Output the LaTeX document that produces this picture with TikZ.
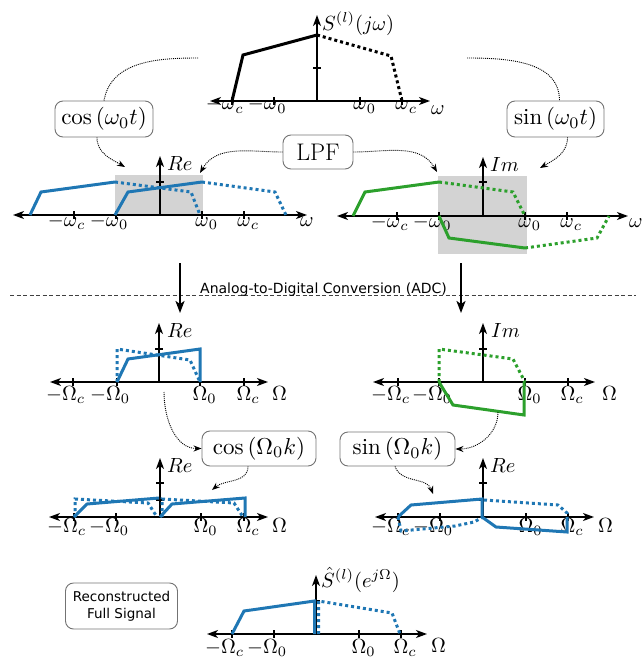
\documentclass[tikz,border=0pt]{standalone}
\usepackage{graphicx}
\usepackage{fontspec}
\newfontfamily\dejavu{DejaVu Sans}
\usetikzlibrary{arrows.meta}
\definecolor{cblue}{HTML}{1F77B4}
\definecolor{cgreen}{HTML}{2CA02C}
\definecolor{cshade}{HTML}{D3D3D3}
\newcommand\lb[1]{\scalebox{2.05}{$#1$}}
\newcommand\bxm[1]{\scalebox{2.3}{$#1$}}
\newcommand\mytx[2]{\draw[tk] (#1,#2-4) -- (#1,#2+4);}
\newcommand\myty[2]{\draw[tk] (#1-4,#2) -- (#1+4,#2);}
\newcommand\tlab[4]{\node[lab,anchor=base] (#1) at (#2,#3) {\lb{#4}};}
\newcommand\tlabn[4]{\node[lab,anchor=base] (#1) at (#2-3.5,#3) {\lb{\llap{$-$}#4}};}
\tikzset{
  ax/.style={line width=1.4pt,{Stealth[length=11pt,width=8pt,inset=3pt]}-{Stealth[length=11pt,width=8pt,inset=3pt]}},
  vax/.style={line width=1.4pt,-{Stealth[length=11pt,width=8pt,inset=3pt]}},
  tk/.style={line width=1.1pt},
  solc/.style={line width=3pt},
  dotc/.style={line width=3pt,dash pattern=on 3pt off 3pt},
  conn/.style={line width=0.9pt,dash pattern=on 1pt off 1pt,-{Stealth[length=8pt,width=6pt]}},
  plainc/.style={line width=0.9pt,dash pattern=on 1pt off 1pt},
  lab/.style={inner sep=0pt},
  bx/.style={draw=black!55,line width=0.9pt,rounded corners=8pt,inner sep=0pt},
  adcarrow/.style={line width=2pt,-{Stealth[length=12pt,width=9pt,inset=3pt]}},
}
\begin{document}
\begin{tikzpicture}[x=1pt,y=-1pt]
\useasboundingbox (0,0) rectangle (641,658);

% ---------- top plot ----------
\mytx{232}{101}\mytx{274}{101}\mytx{360}{101}\mytx{402}{101}
\myty{317}{68}
\draw[ax] (210,101) -- (430,101);
\draw[vax] (317,101) -- (317,15);
\tlabn{a1}{232}{110}{\omega\rlap{$_c$}}
\tlabn{a2}{274}{110}{\omega\rlap{$_0$}}
\tlab{a3}{360}{110}{\omega\rlap{$_0$}}
\tlab{a4}{402}{110}{\omega\rlap{$_c$}}
\node[lab,anchor=base west] (a5) at (431,115) {\lb{\omega}};
\node[lab,anchor=north west] (a6) at (322,12) {\lb{S^{(l)}(j\omega)}};
\draw[solc] (232,101) -- (243,55) -- (317,35);
\draw[dotc] (317,35) -- (391,56) -- (402,101);

% ---------- row 2 left (Re) ----------
\fill[cshade] (115,175) rectangle (203,215);
\mytx{74}{215}\mytx{116}{215}\mytx{202}{215}\mytx{244}{215}
\myty{160}{182}
\draw[ax] (13,215) -- (307,215);
\draw[vax] (160,215) -- (160,156);
\tlabn{b1}{74}{226.5}{\omega\rlap{$_c$}}
\tlabn{b2}{116}{226.5}{\omega\rlap{$_0$}}
\tlab{b3}{202}{226.5}{\omega\rlap{$_0$}}
\tlab{b4}{244}{226.5}{\omega\rlap{$_c$}}
\node[lab,anchor=base west] (b5) at (300,226.5) {\lb{\omega}};
\node[lab,anchor=north west] (b6) at (167,156) {\lb{Re}};
\draw[solc,cblue] (30,215) -- (41,192) -- (115,182);
\draw[dotc,cblue] (115,182) -- (191,192) -- (200,215);
\draw[solc,cblue] (115,215) -- (128,192) -- (202,182);
\draw[dotc,cblue] (202,182) -- (275,192) -- (286,215);

% ---------- row 2 right (Im) ----------
\fill[cshade] (438,176) rectangle (527,254);
\mytx{397}{216}\mytx{439}{216}\mytx{525}{216}\mytx{567}{216}
\myty{483}{182}
\draw[ax] (337,216) -- (628,216);
\draw[vax] (483,216) -- (483,157);
\tlabn{c1}{397}{227.5}{\omega\rlap{$_c$}}
\tlabn{c2}{439}{227.5}{\omega\rlap{$_0$}}
\tlab{c3}{525}{227.5}{\omega\rlap{$_0$}}
\tlab{c4}{567}{227.5}{\omega\rlap{$_c$}}
\node[lab,anchor=base west] (c5) at (629,227.5) {\lb{\omega}};
\node[lab,anchor=north west] (c6) at (490,157) {\lb{Im}};
\draw[solc,cgreen] (353,216) -- (365,192) -- (439,182);
\draw[dotc,cgreen] (439,182) -- (513,192) -- (525,216);
\draw[solc,cgreen] (439,216) -- (449,238) -- (525,248);
\draw[dotc,cgreen] (525,248) -- (597,238) -- (609,216);

% ---------- ADC ----------
\coordinate (dl) at (10,295);
\coordinate (dr) at (636,295);
\draw[line width=0.9pt,black!75,dash pattern=on 4pt off 2.5pt] (dl) -- (dr);
\node[font=\dejavu\fontsize{14}{16}\selectfont,anchor=base,inner sep=0pt] (adc) at (323.5,293) {Analog-to-Digital Conversion (ADC)};
\coordinate (ad1) at (180,263); \coordinate (ad2) at (180,313);
\coordinate (ad3) at (461,263); \coordinate (ad4) at (461,313);
\draw[adcarrow] (ad1) -- (ad2);
\draw[adcarrow] (ad3) -- (ad4);

% ---------- row 3 left (Re) ----------
\mytx{73}{382}\mytx{117}{382}\mytx{200}{382}\mytx{244}{382}
\myty{159}{349}
\draw[ax] (50,382) -- (268,382);
\draw[vax] (159,382) -- (159,323);
\tlabn{d1}{73}{400}{\Omega\rlap{$_c$}}
\tlabn{d2}{117}{400}{\Omega\rlap{$_0$}}
\tlab{d3}{200}{400}{\Omega\rlap{$_0$}}
\tlab{d4}{244}{400}{\Omega\rlap{$_c$}}
\node[lab,anchor=base west] (d5) at (272,400) {\lb{\Omega}};
\node[lab,anchor=north west] (d6) at (167,323) {\lb{Re}};
\draw[dotc,cblue] (117,382) -- (117,349) -- (190,360) -- (200,382);
\draw[solc,cblue] (117,382) -- (128,359) -- (200,349) -- (200,382);

% ---------- row 3 right (Im) ----------
\mytx{398}{382}\mytx{439}{382}\mytx{525}{382}\mytx{568}{382}
\myty{483}{349}
\draw[ax] (373,382) -- (595,382);
\draw[vax] (483,382) -- (483,323);
\tlabn{e1}{398}{400}{\Omega\rlap{$_c$}}
\tlabn{e2}{439}{400}{\Omega\rlap{$_0$}}
\tlab{e3}{525}{400}{\Omega\rlap{$_0$}}
\tlab{e4}{568}{400}{\Omega\rlap{$_c$}}
\node[lab,anchor=base west] (e5) at (602,400) {\lb{\Omega}};
\node[lab,anchor=north west] (e6) at (491,323) {\lb{Im}};
\draw[dotc,cgreen] (439,382) -- (439,349) -- (513,359) -- (525,382);
\draw[solc,cgreen] (439,382) -- (453,405) -- (524,415) -- (524,382);

% ---------- row 4 left (Re) ----------
\mytx{74}{517}\mytx{116}{517}\mytx{201}{517}\mytx{244}{517}
\myty{160}{483}\myty{160}{500}
\draw[ax] (49,517) -- (268,517);
\draw[vax] (160,517) -- (160,458);
\tlabn{f1}{74}{532}{\Omega\rlap{$_c$}}
\tlabn{f2}{116}{532}{\Omega\rlap{$_0$}}
\tlab{f3}{201}{532}{\Omega\rlap{$_0$}}
\tlab{f4}{244}{532}{\Omega\rlap{$_c$}}
\node[lab,anchor=base west] (f5) at (272,532) {\lb{\Omega}};
\node[lab,anchor=north west] (f6) at (167,458) {\lb{Re}};
\draw[dotc,cblue] (75,517) -- (75,499) -- (148,503) -- (157,517);
\draw[dotc,cblue] (162,517) -- (162,499) -- (234,503) -- (243,517);
\draw[solc,cblue] (74,517) -- (87,504) -- (159,498);
\draw[solc,cblue] (160,517) -- (172,504) -- (245,498) -- (245,517);

% ---------- row 4 right (Re) ----------
\mytx{398}{517}\mytx{440}{517}\mytx{526}{517}\mytx{568}{517}
\myty{483}{483}\myty{483}{500}
\draw[ax] (375,517) -- (594,517);
\draw[vax] (483,517) -- (483,458);
\tlabn{g1}{398}{532}{\Omega\rlap{$_c$}}
\tlabn{g2}{440}{532}{\Omega\rlap{$_0$}}
\tlab{g3}{526}{532}{\Omega\rlap{$_0$}}
\tlab{g4}{568}{532}{\Omega\rlap{$_c$}}
\node[lab,anchor=base west] (g5) at (598,532) {\lb{\Omega}};
\node[lab,anchor=north west] (g6) at (490,458) {\lb{Re}};
\draw[dotc,cblue] (484,500) -- (558,505) -- (567,513) -- (567,517);
\draw[dotc,cblue] (398,517) -- (401,531) -- (455,526) -- (474,522) -- (483,517);
\draw[solc,cblue] (398,517) -- (411,505) -- (482,499) -- (482,517) -- (496,527) -- (567,532) -- (567,517);

% ---------- row 5 ----------
\mytx{232}{634}\mytx{274}{634}\mytx{359}{634}\mytx{401}{634}
\myty{316}{601}
\draw[ax] (207,634) -- (427,634);
\draw[vax] (316,634) -- (316,575);
\tlabn{h1}{232}{653}{\Omega\rlap{$_c$}}
\tlabn{h2}{274}{653}{\Omega\rlap{$_0$}}
\tlab{h3}{359}{653}{\Omega\rlap{$_0$}}
\tlab{h4}{401}{653}{\Omega\rlap{$_c$}}
\node[lab,anchor=base west] (h5) at (431,652) {\lb{\Omega}};
\node[lab,anchor=west] (h6) at (321,580) {\lb{\hat S^{(l)}(e^{j\Omega})}};
\draw[solc,cblue] (232,634) -- (244,611) -- (314.5,601) -- (314.5,634);
\draw[dotc,cblue] (318.5,634) -- (318.5,601) -- (392,613) -- (400,634);

% ---------- boxes ----------
\node[bx,minimum width=98pt,minimum height=36pt] (cosw) at (104,119) {\bxm{\cos\left(\omega_0 t\right)}};
\node[bx,minimum width=97pt,minimum height=36pt] (sinw) at (555.5,119) {\bxm{\sin\left(\omega_0 t\right)}};
\node[bx,minimum width=70pt,minimum height=34pt,font=\fontsize{24}{28}\selectfont] (lpf) at (318,152) {LPF};
\node[bx,minimum width=114pt,minimum height=35pt] (cosk) at (259,448.5) {\bxm{\cos\left(\Omega_0 k\right)}};
\node[bx,minimum width=115pt,minimum height=34pt] (sink) at (397.5,449) {\bxm{\sin\left(\Omega_0 k\right)}};
\node[bx,minimum width=112pt,minimum height=46pt,font=\dejavu\fontsize{13.5}{17}\selectfont,align=center] (rec) at (121.5,606) {Reconstructed\\Full Signal};

% ---------- connectors ----------
\coordinate (cA) at (198,58);
\coordinate (sA) at (467,58);
\coordinate (cB) at (125,167);
\coordinate (lA) at (200,173);
\coordinate (lB) at (437,172);
\coordinate (sB) at (540,168);
\coordinate (rA) at (164,392);
\coordinate (rB) at (498,412);
\coordinate (rC) at (212,490);
\coordinate (rD) at (433,494);
\draw[plainc] (cosw.north) to[out=80,in=180] (cA);
\draw[plainc] (sA) to[out=0,in=90] ([xshift=4pt]sinw.north);
\draw[conn] ([xshift=-7pt]cosw.south) to[out=-90,in=150] (cB);
\draw[conn] (lpf.west) to[out=180,in=60] (lA);
\draw[conn] (lpf.east) to[out=0,in=120] (lB);
\draw[conn] ([xshift=12pt]sinw.south) to[out=-90,in=30] (sB);
\draw[conn] (rA) to[out=-90,in=180] (cosk.west);
\draw[conn] (rB) to[out=-90,in=0] (sink.east);
\draw[conn] ([xshift=-11pt]cosk.south) to[out=-90,in=40] (rC);
\draw[conn] ([xshift=-2.5pt]sink.south) to[out=-70,in=110] (rD);
\end{tikzpicture}
\end{document}
